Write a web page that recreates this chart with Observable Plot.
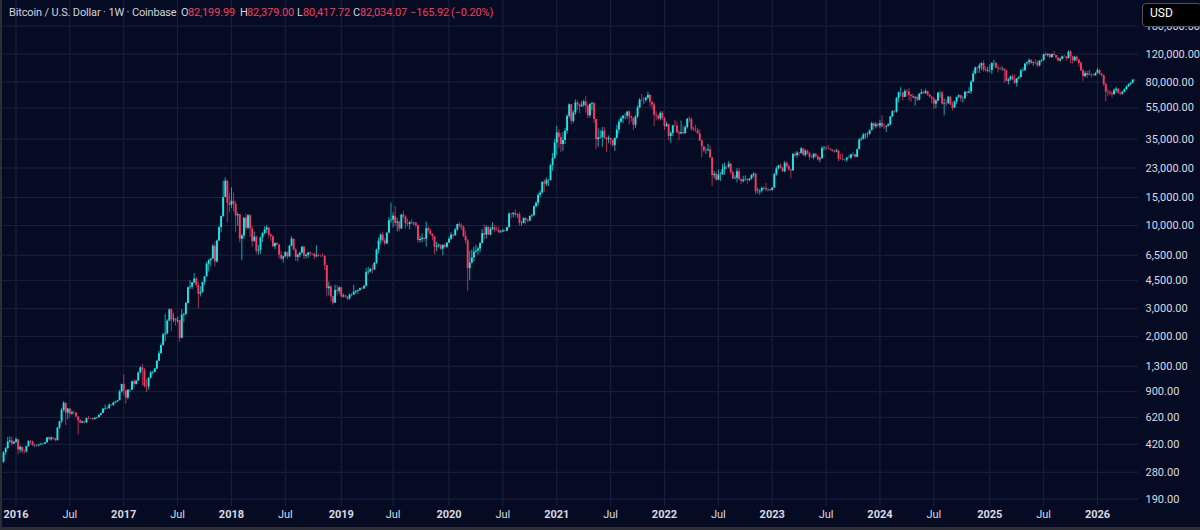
<!DOCTYPE html>
<html>
<head>
<meta charset="utf-8">
<script src="https://cdn.jsdelivr.net/npm/d3@7"></script>
<script src="https://cdn.jsdelivr.net/npm/@observablehq/plot@0.6"></script>
<style>
  html, body { margin: 0; padding: 0; background: #060b24; overflow: hidden; }
  #wrap { position: relative; width: 1200px; height: 530px; background: #060b24; }
  #chart svg { display: block; }
  .hd { position: absolute; top: 5px; font: 11px Roboto, "Noto Sans", sans-serif; color: #d1d4dc; white-space: nowrap; line-height: 16px; letter-spacing: -0.15px; }
  .rd { color: #f23f5f; }
  #usd { position: absolute; left: 1142px; top: 3px; width: 60px; height: 24px; background: #000; border: 1px solid #50535e; border-radius: 4px;
         font: 12px Roboto, sans-serif; color: #fff; line-height: 19px; padding-left: 7px; box-sizing: border-box; }
  #lb { position: absolute; left: 0; top: 0; width: 2px; height: 530px; background: #2a2d36; }
  #bb { position: absolute; left: 0; top: 527px; width: 1200px; height: 3px; background: #2a2d36; }
</style>
</head>
<body>
<div id="wrap">
  <div id="chart"></div>
  <div class="hd" style="left:9px">Bitcoin / U.S. Dollar · 1W · Coinbase</div>
  <div class="hd" style="left:181px">O</div><div class="hd rd" style="left:188px">82,199.99</div>
  <div class="hd" style="left:240px">H</div><div class="hd rd" style="left:247px">82,379.00</div>
  <div class="hd" style="left:297px">L</div><div class="hd rd" style="left:303px">80,417.72</div>
  <div class="hd" style="left:353px">C</div><div class="hd rd" style="left:360px">82,034.07</div>
  <div class="hd rd" style="left:410px">−165.92</div><div class="hd rd" style="left:451px">(−0.20%)</div>
  <div id="usd">USD</div>
  <div id="lb"></div>
  <div id="bb"></div>
</div>
<script>
// Weekly candles (week starting Monday), each row: [close, high, low]; open = previous week's close
const firstOpen = 320;
const w2015 = [[324,337,312],[371,377,320],[394,400,358],[433,465,390],[441,467,427],[422,466,410],[432,438,418]];
const w2016 = [
[448,462,426],[387,450,360],[402,410,370],[378,398,366],[376,385,365],[406,408,370],[438,441,404],[434,443,415],[412,440,405],[413,418,400],
[410,418,403],[416,418,405],[420,425,412],[420,425,414],[430,431,419],[461,462,425],[448,468,440],[460,465,440],[457,462,446],[443,457,435],
[531,537,438],[582,585,520],[685,705,567],[760,780,670],[660,765,550],[700,705,600],[650,700,620],[663,680,640],[660,680,640],[624,660,615],
[592,624,480],[570,600,565],[581,585,565],[572,585,565],[610,614,570],[609,630,600],[608,612,600],[600,610,592],[612,614,597],[617,620,607],
[640,643,615],[655,660,630],[699,700,655],[704,740,685],[705,718,695],[740,754,695],[735,745,725],[765,770,727],[775,780,755],[790,795,772],
[895,920,788],[1000,1000,880]];
const w2017 = [
[908,1150,850],[820,915,750],[920,925,800],[920,930,890],[1040,1045,915],[1000,1070,950],[1050,1060,990],[1180,1195,1050],[1270,1290,1160],[1230,1330,980],
[970,1260,950],[965,1070,890],[1095,1100,920],[1180,1210,1080],[1190,1210,1150],[1250,1260,1180],[1400,1410,1240],[1560,1620,1400],[1760,1800,1550],[2050,2100,1730],
[2080,2760,1850],[2500,2550,2050],[2950,2980,2480],[2550,2980,2150],[2580,2780,2450],[2500,2590,2330],[2520,2650,2420],[1950,2530,1840],[2730,2960,1940],[2760,2800,2450],
[3230,3290,2700],[4050,4100,3200],[4100,4480,3950],[4350,4380,3950],[4600,4980,4300],[4200,4700,4050],[3700,4400,2980],[3780,4120,3550],[4380,4400,3750],[4750,4780,4180],
[5700,5850,4750],[6000,6100,5100],[6150,6180,5500],[7400,7600,6100],[5900,7880,5500],[8000,8100,5800],[9700,9800,7950],[11400,11450,9000],[15000,19000,11200],[19000,19891,15700],
[13800,19100,10400],[13400,16000,12000]];
const w2018 = [
[14200,17250,12750],[13600,16000,12200],[11500,14100,9000],[11700,12000,9900],[8200,11700,7800],[8600,8800,6000],[11100,11200,8200],[9600,11800,9300],[11500,11700,9400],[9500,11700,8400],
[7900,9900,7300],[8450,9100,7900],[6900,8550,6600],[7000,7500,6500],[8350,8450,6600],[8900,9000,7800],[9350,9800,8700],[9650,9990,8900],[8700,9650,8300],[8500,8900,7950],
[7350,8600,7250],[7700,7750,7050],[7550,7800,7450],[6500,7550,6150],[6150,6850,6000],[6350,6400,5800],[6750,6850,6300],[6350,6800,6100],[7400,7500,6300],[8200,8500,7350],
[7000,8200,6900],[6300,7150,5950],[6500,6600,5900],[6700,6800,6250],[7300,7400,6650],[6400,7400,6100],[6500,6600,6150],[6700,6800,6200],[6600,6800,6350],[6580,6650,6450],
[6350,6700,6100],[6450,7450,6300],[6420,6600,6350],[6400,6500,6300],[6380,6600,6300],[5600,6500,5200],[4000,5600,3550],[4100,4400,3600],[3550,4200,3300],[3250,3600,3150],
[3900,4200,3230],[3850,4200,3600],[4050,4100,3700]];
const w2019 = [
[3550,4100,3500],[3600,3700,3500],[3550,3650,3500],[3450,3560,3350],[3650,3700,3380],[3650,3720,3560],[3800,4200,3630],[3850,3900,3680],[3900,3920,3700],[4000,4030,3840],
[3990,4080,3930],[4150,4170,3950],[5050,5350,4100],[5100,5450,4900],[5300,5350,5020],[5250,5650,4950],[5800,5850,5200],[7000,7100,5680],[8000,8350,6600],[8700,8850,7550],
[8000,9080,7800],[7650,8300,7450],[8950,9000,7600],[10700,11200,8950],[10820,13880,10300],[11450,12000,9650],[10300,13200,9850],[10500,11100,9100],[9500,10650,9100],[11650,11700,9450],
[11300,12300,11000],[10250,11500,9500],[10150,10950,9800],[10400,10600,9400],[10300,10900,10100],[10350,10450,9950],[10000,10350,9600],[8050,10050,7750],[8150,8550,7750],[8300,8850,7800],
[8200,8420,7900],[9550,10500,7300],[9200,9800,8950],[8800,9500,8650],[8500,8850,8000],[7300,8500,6550],[7400,7850,6850],[7500,7650,7200],[7100,7550,6950],[7500,7550,6450],
[7300,7700,7100],[7750,7800,7150]];
const w2020 = [
[8180,8450,7700],[8700,9000,8050],[8600,8750,8250],[9380,9600,8600],[10150,10200,9150],[9900,10500,9650],[9700,10250,9300],[8550,9950,8400],[8000,9200,7650],[5350,8180,3860],
[5800,6900,4500],[6250,7000,5700],[6800,7300,5900],[6900,7480,6700],[7100,7300,6500],[7700,7800,6750],[8900,9450,7650],[8700,10050,8100],[9700,9950,8200],[8700,9850,8650],
[9450,9750,8600],[9650,10400,9300],[9350,9990,9000],[9300,9800,9200],[9000,9750,8850],[9100,9300,8950],[9250,9450,9050],[9200,9350,9050],[9700,9750,9150],[11800,12000,9650],
[11700,11900,11000],[11900,12100,11150],[11650,12500,11300],[11700,11800,11100],[10300,12100,9900],[10300,10600,9900],[11100,11100,10200],[10750,11000,10150],[10650,10950,10400],[11400,11500,10550],
[11500,11750,11200],[13100,13350,11350],[13800,14100,12900],[15500,15950,13200],[16000,16500,14900],[18700,18800,15800],[18200,19450,16200],[19150,19900,17600],[19250,19400,17600],[23800,24300,19000],
[26500,28400,21900],[33000,34800,26000]];
const w2021 = [
[38200,42000,27700],[35800,40100,30400],[32300,37850,28800],[34300,38500,29300],[39200,40900,32300],[48600,49700,37400],[57500,58300,47000],[45200,57500,43000],[51000,52600,43900],[59000,61700,49300],
[57500,60900,53000],[55800,58400,50400],[57000,60200,55700],[59900,61400,55500],[56200,64900,51000],[49000,57500,47000],[57800,58500,47500],[58300,59600,53000],[46400,59600,43800],[34700,46600,30000],
[35600,40900,31100],[35800,39500,35000],[39100,41300,31000],[35500,41300,34800],[34700,35750,28800],[35300,36600,32700],[34300,35100,32100],[31800,34600,31000],[35400,35400,29300],[39900,42600,34800],
[44600,46200,37600],[47000,48100,43800],[48800,49000,43900],[48800,50500,46300],[51800,51900,46600],[48300,52900,42900],[47300,48800,44700],[42700,47300,39600],[48200,49200,40800],[54900,56600,47100],
[61500,62900,54100],[61300,67000,59800],[61300,63700,57900],[63300,64300,59500],[66000,69000,62300],[59700,66300,55600],[57300,59300,53200],[49400,59200,42000],[48900,51900,45600],[46700,49500,45500],
[50800,52000,45600],[47300,52100,45700]];
const w2022 = [
[41900,47500,39700],[43100,44500,41300],[36300,43500,34000],[37900,38900,32900],[42400,42600,36300],[42200,45800,41700],[38300,44700,38000],[37700,39500,34300],[38400,45400,37200],[37800,42500,37200],
[41300,42300,37600],[46800,46900,40500],[46400,48200,44200],[40400,47500,39200],[39700,41500,39200],[39500,42900,38500],[37700,40800,37500],[34100,40000,33700],[31300,34500,26700],[29400,31300,28700],
[29400,30600,28000],[29900,32400,29300],[26600,31700,26500],[20600,26900,17600],[21000,21900,19600],[19300,21500,18900],[20800,22400,19200],[20800,21600,18900],[22500,24300,20800],[23300,24700,20700],
[23200,23600,22400],[24300,25200,22700],[21500,24500,20800],[19600,22000,19500],[19800,20600,19500],[21800,22800,18500],[19400,22700,19300],[18900,19700,18100],[19300,20400,18500],[19400,20500,19000],
[19200,19700,18200],[19600,19700,18900],[20600,20900,19300],[21000,21500,20000],[16300,21400,15600],[16300,17200,15800],[16500,16800,15500],[17100,17400,16000],[17100,17400,16700],[16800,18400,16300],
[16800,17000,16300],[16600,16900,16300]];
const w2023 = [
[17200,17300,16500],[20900,21300,17100],[22700,23400,20400],[23700,23900,22300],[22900,24300,22600],[21800,23200,21500],[24600,25300,21400],[23500,25100,22800],[22400,23900,21900],[22100,22600,19600],
[28000,28400,21900],[27500,28900,26600],[28500,29200,26500],[28300,28800,27200],[30300,31000,28200],[27600,30500,27100],[29300,30000,26900],[28400,29800,27700],[26900,28900,25800],[26700,27600,26400],
[28100,28200,25900],[27100,28400,26600],[25900,27400,25400],[26300,26800,24800],[30500,31400,26300],[30600,31400,29500],[30300,31400,29700],[30200,31800,30000],[29800,30400,29600],[29300,29900,28900],
[29000,29800,28600],[29400,30200,28700],[26100,29500,25200],[26000,28100,25800],[25800,28100,25400],[25800,26100,25400],[26500,26900,24900],[26500,27500,26300],[27900,28000,26000],[27900,28600,27200],
[26800,28000,26600],[30000,30300,26800],[34500,35200,29900],[35000,35900,33900],[37100,38000,34500],[37400,37900,34800],[37500,38400,35600],[39500,39900,36800],[43800,44700,39500],[41900,43500,40200],
[43000,44400,40600],[42300,43800,41300]];
const w2024 = [
[43900,45900,40700],[41700,49000,41500],[41600,43600,40300],[42000,42800,38500],[43000,43800,41800],[48300,48600,42300],[52100,52800,47700],[51700,52900,50600],[63100,64000,50900],[68400,69200,59000],
[68400,73800,64500],[64000,68200,60700],[69600,71700,63900],[69300,71300,64500],[65700,72800,60700],[64900,66900,59600],[63400,67200,62500],[64000,64700,56500],[61500,65500,60200],[67000,67700,60700],
[68500,71900,66300],[67500,70000,66700],[69600,72000,67300],[66200,70200,65000],[64200,66900,63400],[62700,64500,58500],[58000,63800,53500],[60800,61800,54300],[68200,68400,59900],[68200,69400,63400],
[58100,70000,57100],[58700,62700,49000],[58400,61800,56100],[64200,65000,57800],[57300,64500,57200],[54800,59800,52600],[59700,60600,54600],[64000,64100,57500],[65600,66500,62700],[62800,66000,59800],
[62800,64400,58900],[69000,69500,62000],[67900,69500,65100],[69300,73600,67500],[80000,81500,66800],[89800,93500,78900],[98000,99600,89400],[97000,98800,90800],[101200,104000,90500],[104400,105200,94200],
[95200,108300,92200],[93700,99900,92500],[94500,98900,91300]];
const w2025 = [
[94500,102700,91300],[104500,106000,89300],[104700,109300,99500],[97700,106400,97500],[96500,102500,91200],[96100,98800,94100],[96300,99500,93400],[94200,96500,78200],[80700,95000,80000],[82600,84400,76600],
[86100,87500,81200],[82500,88800,81600],[78300,88500,77100],[83700,83900,74400],[85100,86500,83000],[93700,95800,85100],[94300,97900,92800],[104000,104300,93400],[105700,107000,100700],[109000,111900,102000],
[104600,110700,103100],[105700,106800,100400],[105500,110500,102700],[100900,108900,98200],[108300,108500,99600],[109200,110600,105300],[119000,119500,107500],[117300,123200,115700],[119400,120200,114700],[114000,119800,112000],
[119300,119500,112700],[117400,124500,116900],[113500,117600,110700],[108300,113500,107300],[111100,113400,107400],[115300,116700,110700],[115200,117900,114800],[112200,115000,108600],[123500,125700,111600],[115100,126200,104000],
[108600,116000,103500],[114500,116100,106700],[110000,116400,106300],[104700,110900,98900],[94000,107500,93000],[86500,96600,80500],[90400,93100,85300],[88000,93500,84000],[88500,94500,87500],[88000,90500,84500],
[87500,89500,86500],[90500,91500,86800]];
const w2026 = [
[94500,97500,90000],[89500,96000,88000],[87500,90500,86000],[77000,88500,75000],[69000,79000,60000],[68500,72000,65000],[67500,70500,65500],[66500,69500,63500],[70500,72500,66000],[72000,74000,68500],
[68000,72500,67000],[67000,69000,65500],[69000,70000,66000],[71500,72500,68500],[74500,75500,71000],[77000,78000,74000],[78500,79500,75500],[82199.99,83000,77800],[82034.07,82379,80417.72]];

// Axis ticks
const yTicks = [190, 280, 420, 620, 900, 1300, 2000, 3000, 4500, 6500, 10000, 15000, 23000, 35000, 55000, 80000, 120000, 180000];
const yearTicks = ["2016-01-04","2017-01-02","2018-01-01","2019-01-07","2020-01-06","2021-01-04","2022-01-03","2023-01-02","2024-01-01","2025-01-06","2026-01-05"];
const julTicks = ["2016-07-04","2017-07-03","2018-07-02","2019-07-01","2020-07-06","2021-07-05","2022-07-04","2023-07-03","2024-07-01","2025-07-07"];
const firstWeek = "2015-11-16";

const upColor = "#1ee6e6", downColor = "#f23c64", gridColor = "#1a2140", textColor = "#d9dce3";

const rows = [w2015, w2016, w2017, w2018, w2019, w2020, w2021, w2022, w2023, w2024, w2025, w2026].flat();
const t0 = new Date(firstWeek + "T00:00:00Z").getTime();
let prevClose = firstOpen;
const candles = rows.map(([close, high, low], i) => {
  const open = prevClose; prevClose = close;
  return {date: new Date(t0 + i * 7 * 86400000), open, close, high, low};
});
const up = candles.filter(d => d.close >= d.open);
const down = candles.filter(d => d.close < d.open);
const toDate = s => new Date(s + "T00:00:00Z");
const yearDates = yearTicks.map(toDate), julDates = julTicks.map(toDate);
const fmt = d3.format(",.2f");

const chart = Plot.plot({
  width: 1200, height: 530,
  marginTop: 0, marginRight: 62, marginBottom: 24, marginLeft: 0,
  style: {background: "transparent", color: textColor, fontFamily: "Roboto, 'Noto Sans', sans-serif", fontSize: "11px"},
  x: {type: "utc", domain: [yearDates[0], yearDates[yearDates.length - 1]], range: [15.5, 1097], axis: null},
  y: {type: "log", domain: [190, 120000], range: [498.5, 53.5], axis: null},
  marks: [
    Plot.gridY(yTicks, {stroke: gridColor, strokeOpacity: 1}),
    Plot.gridX([...yearDates, ...julDates], {stroke: gridColor, strokeOpacity: 1}),
    Plot.ruleX(up, {x: "date", y1: "low", y2: "high", stroke: upColor, strokeOpacity: 0.7, strokeWidth: 1}),
    Plot.ruleX(down, {x: "date", y1: "low", y2: "high", stroke: downColor, strokeOpacity: 0.7, strokeWidth: 1}),
    Plot.ruleX(up, {x: "date", y1: "open", y2: "close", stroke: upColor, strokeWidth: 1.9}),
    Plot.ruleX(down, {x: "date", y1: "open", y2: "close", stroke: downColor, strokeWidth: 1.9}),
    Plot.text(yTicks, {y: d => d, frameAnchor: "right", dx: 7, textAnchor: "start", text: d => fmt(d), fill: textColor, fontSize: 11}),
    Plot.text(yearDates, {x: d => d, frameAnchor: "bottom", dy: 11, text: d => d3.utcFormat("%Y")(d), fontWeight: "bold", fill: textColor, fontSize: 11}),
    Plot.text(julDates, {x: d => d, frameAnchor: "bottom", dy: 11, text: () => "Jul", fill: textColor, fontSize: 11})
  ]
});
document.getElementById("chart").appendChild(chart);
</script>
</body>
</html>
